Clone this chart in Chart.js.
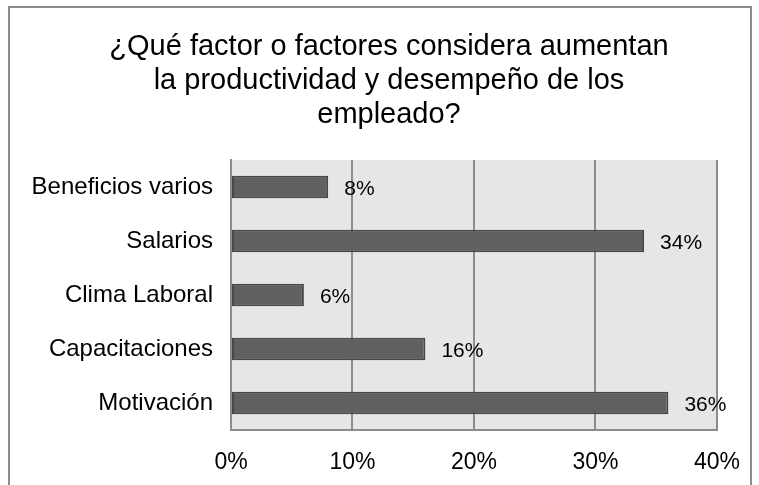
<!DOCTYPE html>
<html>
<head>
<meta charset="utf-8">
<script src="https://cdn.jsdelivr.net/npm/chart.js@4/dist/chart.umd.min.js"></script>
<style>
  html, body { margin: 0; padding: 0; background: #fff; }
  #wrap { width: 759px; height: 485px; position: relative; }
</style>
</head>
<body>
<div id="wrap"><canvas id="chart" width="759" height="485"></canvas></div>
<script>
// datos del grafico
const categories = ['Beneficios varios', 'Salarios', 'Clima Laboral', 'Capacitaciones', 'Motivación'];
const values = [8, 34, 6, 16, 36];
const titleLines = ['¿Qué factor o factores considera aumentan', 'la productividad y desempeño de los', 'empleado?'];

const FONT = '"Liberation Sans", Arial, sans-serif';

// fondo gris del area de trazado, marco exterior y titulo
const frame = {
  id: 'frame',
  beforeDraw(chart) {
    const { ctx, chartArea: a } = chart;
    ctx.save();
    ctx.fillStyle = '#e6e6e6';
    ctx.fillRect(a.left, a.top, a.right - a.left, a.bottom - a.top);
    ctx.strokeStyle = '#8c8c8c';
    ctx.lineWidth = 2;
    ctx.beginPath();
    ctx.moveTo(9, 485);
    ctx.lineTo(9, 7);
    ctx.lineTo(751, 7);
    ctx.lineTo(751, 485);
    ctx.stroke();
    // titulo (centrado un poco a la derecha, como en el original)
    ctx.font = '29px ' + FONT;
    ctx.fillStyle = '#000';
    ctx.textAlign = 'center';
    ctx.textBaseline = 'alphabetic';
    titleLines.forEach((t, i) => ctx.fillText(t, 389, 55 + i * 34));
    ctx.restore();
  }
};

// etiquetas de porcentaje al final de cada barra
const barLabels = {
  id: 'barLabels',
  afterDatasetsDraw(chart) {
    const { ctx } = chart;
    const meta = chart.getDatasetMeta(0);
    ctx.save();
    ctx.font = '21px ' + FONT;
    ctx.fillStyle = '#000';
    ctx.textBaseline = 'middle';
    ctx.textAlign = 'left';
    meta.data.forEach((bar, i) => {
      ctx.fillText(values[i] + '%', bar.x + 16, bar.y + 2);
    });
    ctx.restore();
  }
};

new Chart(document.getElementById('chart'), {
  type: 'bar',
  data: {
    labels: categories,
    datasets: [{
      data: values,
      backgroundColor: '#606060',
      borderColor: '#474747',
      borderWidth: 2,
      borderSkipped: false,
      barPercentage: 0.42,
      categoryPercentage: 1
    }]
  },
  options: {
    indexAxis: 'y',
    responsive: false,
    animation: false,
    layout: { padding: { left: 0, right: 41, top: 160, bottom: 0 } },
    plugins: {
      legend: { display: false },
      tooltip: { enabled: false },
      title: { display: false }
    },
    scales: {
      x: {
        min: 0,
        max: 40,
        afterFit(scale) { scale.height = 55; },
        ticks: {
          stepSize: 10,
          color: '#000',
          padding: 19,
          font: { family: FONT, size: 23 },
          callback: v => v + '%'
        },
        grid: { color: '#8c8c8c', lineWidth: 2, drawTicks: false },
        border: { display: true, color: '#8c8c8c', width: 2 }
      },
      y: {
        afterFit(scale) { scale.width = 231; },
        ticks: {
          color: '#000',
          padding: 18,
          font: { family: FONT, size: 24 }
        },
        grid: { display: false, drawTicks: false },
        border: { display: true, color: '#8c8c8c', width: 2 }
      }
    }
  },
  plugins: [frame, barLabels]
});
</script>
</body>
</html>
